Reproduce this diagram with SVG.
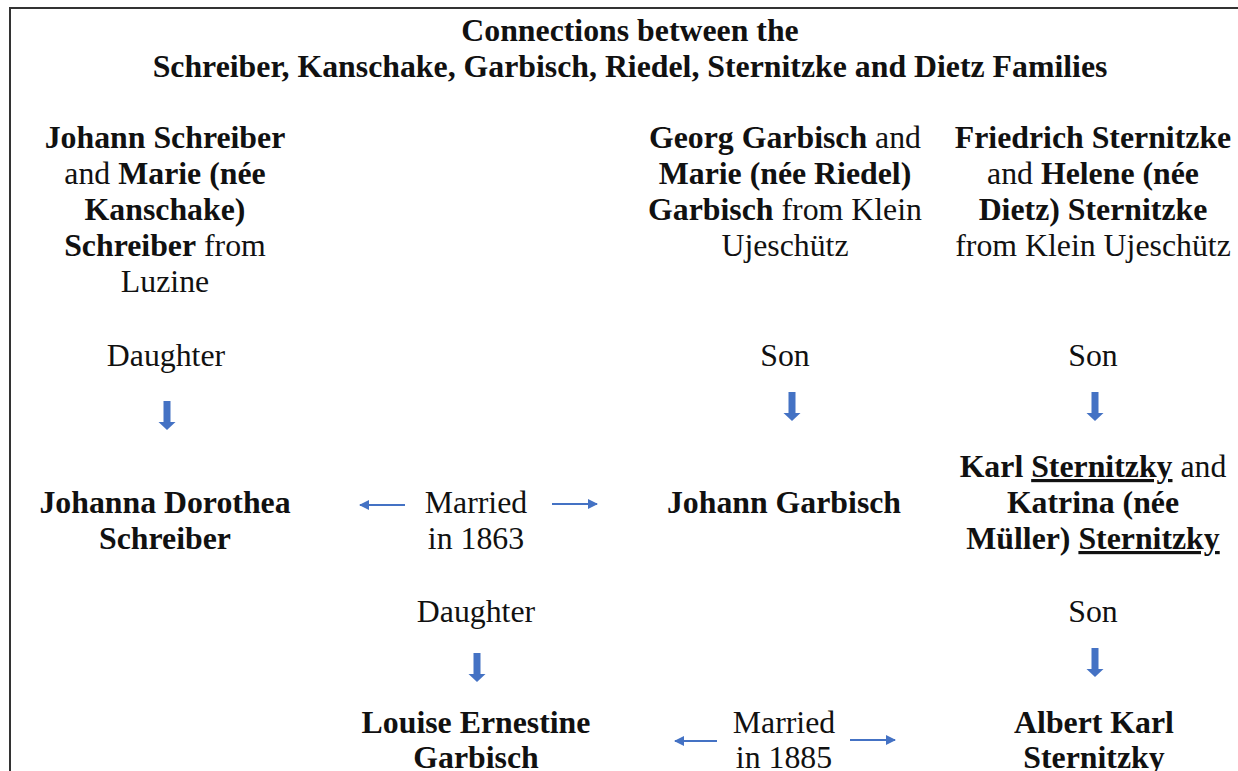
<svg xmlns="http://www.w3.org/2000/svg" width="1238" height="771" viewBox="0 0 1238 771">
<defs>
<style>
text{font-family:'Liberation Serif',Tinos,'Times New Roman','DejaVu Serif',serif;font-size:31.8px;fill:#111;text-anchor:middle}
.b{font-weight:bold}
.u{text-decoration:underline}
.arr{fill:#4472C4}
.hl{stroke:#4472C4;stroke-width:2;fill:none;marker-end:url(#ah)}
</style>
<marker id="ah" viewBox="0 0 10 10" refX="9" refY="5" markerWidth="10" markerHeight="10" markerUnits="userSpaceOnUse" orient="auto">
<path d="M0,0 L10,5 L0,10 Z" fill="#4472C4"/>
</marker>
</defs>
<rect width="1238" height="771" fill="#fff"/>
<path d="M10,771 V8 H1238" fill="none" stroke="#333" stroke-width="2"/>
<g id="title">
<text x="630" y="41" class="b">Connections between the</text>
<text x="630" y="77" class="b">Schreiber, Kanschake, Garbisch, Riedel, Sternitzke and Dietz Families</text>
</g>
<g id="schreiber-parents">
<text x="165" y="148"><tspan class="b">Johann Schreiber</tspan></text>
<text x="165" y="184">and <tspan class="b">Marie (née</tspan></text>
<text x="165" y="220"><tspan class="b">Kanschake)</tspan></text>
<text x="165" y="256"><tspan class="b">Schreiber</tspan> from</text>
<text x="165" y="292">Luzine</text>
</g>
<g id="garbisch-parents">
<text x="785" y="148"><tspan class="b">Georg Garbisch</tspan> and</text>
<text x="785" y="184"><tspan class="b">Marie (née Riedel)</tspan></text>
<text x="785" y="220"><tspan class="b">Garbisch</tspan> from Klein</text>
<text x="785" y="256">Ujeschütz</text>
</g>
<g id="sternitzke-parents">
<text x="1093" y="148"><tspan class="b">Friedrich Sternitzke</tspan></text>
<text x="1093" y="184">and <tspan class="b">Helene (née</tspan></text>
<text x="1093" y="220"><tspan class="b">Dietz) Sternitzke</tspan></text>
<text x="1093" y="256">from Klein Ujeschütz</text>
</g>
<g id="labels">
<text x="166" y="366">Daughter</text>
<text x="785" y="366">Son</text>
<text x="1093" y="366">Son</text>
<text x="476" y="513">Married</text>
<text x="476" y="549">in 1863</text>
<text x="476" y="622">Daughter</text>
<text x="1093" y="622">Son</text>
<text x="784" y="733">Married</text>
<text x="784" y="768">in 1885</text>
</g>
<g id="johanna">
<text x="165" y="513" class="b">Johanna Dorothea</text>
<text x="165" y="549" class="b">Schreiber</text>
</g>
<g id="johann-garbisch">
<text x="784" y="513" class="b">Johann Garbisch</text>
</g>
<g id="karl-sternitzky">
<text x="1093" y="477"><tspan class="b">Karl </tspan><tspan class="b u">Sternitzky</tspan> and</text>
<text x="1093" y="513" class="b">Katrina (née</text>
<text x="1093" y="549"><tspan class="b">Müller) </tspan><tspan class="b u">Sternitzky</tspan></text>
</g>
<g id="louise">
<text x="476" y="733" class="b">Louise Ernestine</text>
<text x="476" y="768" class="b">Garbisch</text>
</g>
<g id="albert">
<text x="1094" y="733" class="b">Albert Karl</text>
<text x="1094" y="768" class="b">Sternitzky</text>
</g>
<g id="connectors">
<path class="arr" d="M163.5,401 H170.5 V422 H175.5 L167,430 L158.5,422 H163.5 Z"/>
<path class="arr" d="M788.5,392 H795.5 V413 H800.5 L792,421 L783.5,413 H788.5 Z"/>
<path class="arr" d="M1091.5,392 H1098.5 V413 H1103.5 L1095,421 L1086.5,413 H1091.5 Z"/>
<path class="arr" d="M473.5,653 H480.5 V674 H485.5 L477,682 L468.5,674 H473.5 Z"/>
<path class="arr" d="M1091.5,648 H1098.5 V669 H1103.5 L1095,677 L1086.5,669 H1091.5 Z"/>
<path class="hl" d="M405,505 H360"/>
<path class="hl" d="M552,504 H597"/>
<path class="hl" d="M717,741 H675"/>
<path class="hl" d="M850,740 H895"/>
</g>
</svg>
